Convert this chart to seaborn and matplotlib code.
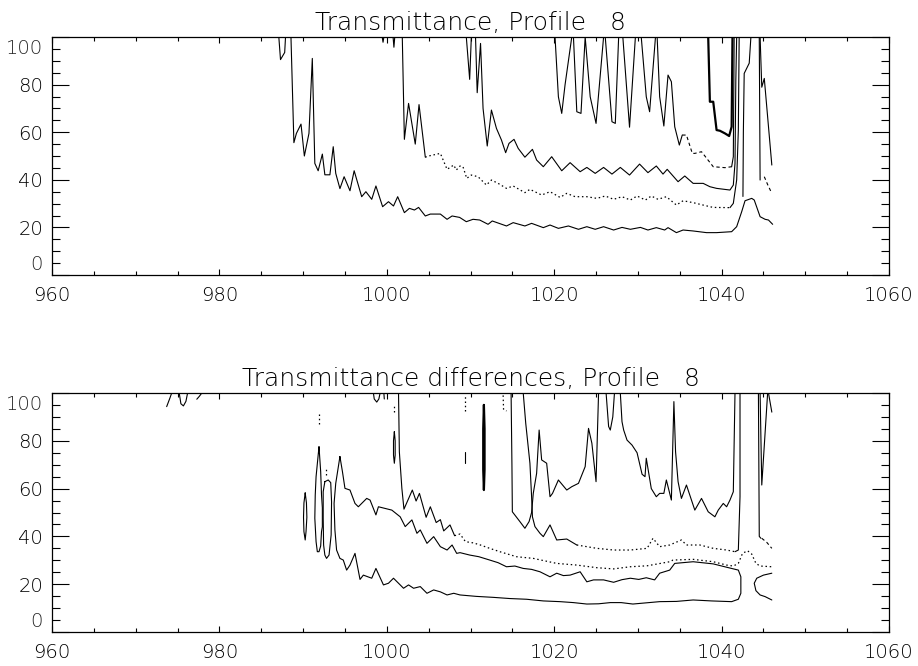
import numpy as np
import pandas as pd
import matplotlib
matplotlib.use("Agg")
import matplotlib.pyplot as plt
from matplotlib.ticker import MultipleLocator
from matplotlib.transforms import offset_copy
import seaborn as sns

# ---------------------------------------------------------------------------
# Axis layout values
x_range = (960, 1060)
y_range = (0, 100)
y_tick_values = [0, 20, 40, 60, 80, 100]
y_tick_labels = ["0", "20", "40", "60", "80", "100"]
x_tick_values = [960, 980, 1000, 1020, 1040, 1060]
x_tick_labels = ["960", "980", "1000", "1020", "1040", "1060"]
title_top = "Transmittance, Profile   8"
title_bottom = "Transmittance differences, Profile   8"

# ---------------------------------------------------------------------------
# Contour lines of the transmittance field (wavenumber, level)
top_spike_987 = np.array([[987.1, 100], [987.3, 90.5], [987.8, 93.5], [987.9, 100]])
top_spike_999 = np.array([[999.45, 100], [999.55, 97.8], [999.65, 100]])
top_spike_1001 = np.array([[1000.75, 100], [1000.85, 95.7], [1000.95, 100]])

top_low = np.array([
    [988.55, 100], [988.9, 55.6], [989.2, 59.5], [989.75, 63.4], [990.15, 50], [990.7, 59.5],
    [991.1, 91], [991.4, 46.9], [991.8, 43.8], [992.3, 50.8], [992.6, 42.1], [993.2, 42.1],
    [993.6, 53.9], [993.9, 42.7], [994.4, 36.3], [994.9, 41.3], [995.6, 35.4], [996.1, 43.8],
    [997.0, 32.9], [997.5, 35.0], [998.2, 31.8], [998.7, 37.4], [999.5, 28.7], [1000.2, 30.8],
    [1000.8, 29.0], [1001.3, 32.9], [1002.1, 26.2], [1002.7, 28.0], [1003.3, 27.3], [1003.8, 28.4],
    [1004.6, 24.8], [1005.2, 25.6], [1006.4, 25.6], [1007.2, 23.4], [1007.8, 24.8], [1008.7, 24.2],
    [1009.5, 22.4], [1010.3, 23.4], [1011.1, 23.1], [1012.1, 21.3], [1012.6, 22.7], [1014.3, 20.6],
    [1015.1, 22.0], [1016.5, 20.6], [1017.3, 21.7], [1018.7, 19.9], [1019.5, 21.0], [1020.5, 19.6],
    [1021.7, 20.6], [1022.9, 19.2], [1023.9, 20.3], [1024.9, 19.2], [1025.9, 20.3], [1027.1, 18.9],
    [1028.1, 20.0], [1029.1, 19.2], [1030.3, 20.0], [1031.2, 18.9], [1032.2, 19.9], [1033.2, 18.9],
    [1033.6, 19.9], [1034.6, 17.8], [1035.4, 18.9], [1036.6, 18.5], [1038.2, 17.8], [1039.4, 17.8],
    [1041.2, 18.2], [1041.8, 20.3], [1042.4, 26.6], [1042.8, 31.2], [1043.6, 32.2], [1043.9, 31.5],
    [1044.6, 24.5], [1045.2, 23.4], [1045.6, 23.1], [1046.1, 21.3]])

top_mid_head = np.array([
    [1001.85, 100], [1002.1, 57.0], [1002.6, 72.1], [1003.4, 55.0], [1003.85, 71.6], [1004.6, 49.5]])
top_mid_dotted = np.array([
    [1004.6, 49.5], [1005.0, 50.0], [1006.4, 51.1], [1007.2, 44.4], [1008.0, 46.2], [1008.3, 44.1],
    [1008.75, 45.8], [1009.1, 45.5], [1009.55, 40.6], [1010.1, 42.0], [1010.9, 41.3], [1011.9, 37.8],
    [1012.5, 39.9], [1013.3, 38.5], [1014.3, 36.4], [1015.1, 37.4], [1016.5, 34.6], [1017.1, 36.0],
    [1018.5, 33.6], [1019.5, 35.0], [1020.7, 32.6], [1021.5, 34.3], [1022.5, 32.9], [1023.9, 32.9],
    [1025.1, 32.2], [1026.1, 33.2], [1027.1, 31.8], [1028.1, 32.9], [1029.1, 31.5], [1029.9, 33.2],
    [1030.9, 31.5], [1031.6, 33.2], [1032.4, 31.8], [1033.4, 32.9], [1034.6, 29.4], [1035.4, 31.2],
    [1036.6, 30.4], [1038.6, 28.7], [1039.0, 28.4], [1041.0, 28.3]])
top_mid_rise = np.array([[1041.0, 28.3], [1041.4, 30.1], [1041.8, 39.9], [1042.0, 60.9], [1042.1, 100]])

top_upper = np.array([
    [1009.5, 100], [1009.9, 82.2], [1010.1, 100], [1010.6, 100], [1010.8, 76.6], [1011.2, 97.3],
    [1011.5, 70.0], [1012.0, 54.2], [1012.5, 69.3], [1013.1, 61.6], [1013.7, 56.7], [1014.2, 51.4],
    [1014.6, 55.3], [1015.2, 57.0], [1015.7, 53.2], [1016.5, 49.5], [1017.4, 52.8], [1017.9, 48.3],
    [1018.7, 45.5], [1019.7, 49.7], [1020.9, 43.8], [1021.9, 47.2], [1023.1, 43.4], [1023.9, 45.2],
    [1024.9, 42.7], [1025.9, 45.2], [1026.9, 42.4], [1027.9, 45.2], [1029.0, 42.0], [1030.2, 46.6],
    [1031.2, 43.0], [1032.2, 45.8], [1033.0, 42.4], [1033.5, 44.4], [1034.8, 39.2], [1035.6, 41.6],
    [1036.6, 38.5], [1037.8, 38.5], [1038.6, 37.1], [1039.4, 36.4], [1041.0, 35.7], [1041.4, 37.8],
    [1041.6, 46.9], [1041.7, 81.9], [1041.8, 100]])

top_spikes = np.array([
    [1020.1, 100], [1020.5, 74.9], [1020.9, 67.9], [1021.3, 80.0], [1022.1, 100], [1022.3, 100],
    [1022.7, 68.6], [1023.2, 67.9], [1023.7, 100], [1024.3, 74.9], [1025.0, 63.7], [1025.9, 100],
    [1026.1, 100], [1026.9, 64.4], [1027.3, 63.7], [1027.7, 100], [1028.2, 100], [1029.0, 62.1],
    [1029.7, 100], [1030.4, 100], [1031.0, 74.9], [1031.4, 68.6], [1032.1, 100], [1032.3, 100],
    [1032.6, 74.9], [1033.1, 62.6], [1033.6, 84.0], [1034.0, 81.2], [1034.4, 62.3], [1034.95, 54.6],
    [1035.3, 58.8]])
top_spikes_dashed = np.array([
    [1035.3, 58.8], [1035.8, 58.8], [1036.5, 51.1], [1036.8, 51.1], [1037.6, 51.8], [1039.0, 45.5],
    [1040.4, 45.1], [1041.2, 45.5]])
top_spikes_rise = np.array([[1041.2, 45.5], [1041.4, 49.7], [1041.5, 100]])

top_core = np.array([
    [1038.4, 100], [1038.6, 72.8], [1039.0, 72.8], [1039.4, 60.9], [1039.8, 60.6], [1040.4, 59.5],
    [1040.9, 58.4], [1041.2, 62.3], [1041.3, 100]])

top_right_a = np.array([[1042.55, 33.0], [1042.6, 60.0], [1042.7, 84.7], [1043.3, 89.0], [1043.5, 100]])
top_right_b = np.array([[1044.5, 100], [1044.6, 39.9]])
top_right_b_dashed = np.array([[1045.1, 41.3], [1045.5, 38.0], [1046.0, 34.3]])
top_right_c = np.array([[1044.6, 100], [1044.8, 78.9], [1045.1, 82.6], [1046.0, 46.2]])

# Contour lines of the transmittance differences
bot_edge_a = np.array([[973.7, 94.3], [974.1, 98.0], [974.3, 100]])
bot_edge_b = np.array([[975.2, 100], [975.4, 95.5], [975.7, 94.6], [976.0, 96.5], [976.2, 100]])
bot_edge_c = np.array([[977.3, 97.4], [977.6, 98.6], [977.9, 100]])
bot_oval_990 = np.array([
    [990.25, 58.2], [990.4, 54.0], [990.45, 48.0], [990.35, 42.0], [990.25, 38.5], [990.1, 42.0],
    [990.05, 48.0], [990.1, 54.0], [990.25, 58.2]])
bot_loop_left = np.array([
    [991.9, 77.5], [992.1, 67.1], [992.2, 57.3], [992.3, 52.0], [992.3, 44.0], [992.2, 42.0],
    [992.1, 36.0], [991.9, 33.6], [991.7, 33.6], [991.55, 37.8], [991.4, 47.6], [991.45, 57.3],
    [991.55, 65.0], [991.8, 74.0], [991.9, 77.5]])
bot_loop_right = np.array([
    [992.6, 62.9], [993.0, 63.6], [993.3, 62.5], [993.4, 54.5], [993.35, 40.6], [993.1, 32.2],
    [992.8, 30.8], [992.6, 32.2], [992.45, 36.4], [992.4, 47.6], [992.4, 58.7], [992.6, 62.9]])
bot_oval_1001 = np.array([
    [1000.9, 83.8], [1001.0, 80.0], [1001.0, 74.0], [1000.9, 70.6], [1000.8, 74.0], [1000.8, 80.0],
    [1000.9, 83.8]])
bot_cup_998 = np.array([[998.4, 100], [998.5, 97.5], [998.8, 96.2], [999.05, 97.5], [999.2, 100]])
bot_tick_999 = np.array([[999.65, 100], [999.7, 97.5]])
bot_dash_1009 = np.array([[1009.35, 75.4], [1009.35, 70.6]])
bot_lens_1011 = np.array([
    [1011.6, 95.0], [1011.68, 85.0], [1011.68, 68.0], [1011.6, 59.4], [1011.52, 68.0],
    [1011.52, 85.0], [1011.6, 95.0]])

bot_dots_a = np.array([[991.9, 87.0], [991.9, 91.5]])
bot_dots_b = np.array([[992.7, 65.5], [992.7, 69.0]])
bot_dots_c = np.array([[1000.9, 92.0], [1000.9, 95.5]])
bot_dots_d = np.array([[1009.35, 92.5], [1009.35, 99.5]])
bot_dots_e = np.array([[1013.9, 99.0], [1013.95, 93.0], [1014.3, 92.5]])

bot_closed = np.array([
    [994.4, 73.4], [994.7, 67.1], [995.0, 60.1], [995.6, 59.4], [996.2, 53.8], [996.6, 52.4],
    [997.6, 55.9], [998.0, 55.2], [998.7, 49.0], [999.0, 52.4], [1000.6, 51.0], [1001.6, 48.2],
    [1002.2, 44.1], [1003.0, 46.9], [1003.6, 41.3], [1004.0, 42.7], [1004.8, 37.1], [1005.6, 39.9],
    [1006.4, 35.7], [1007.2, 34.3], [1007.8, 36.4], [1008.35, 32.9], [1008.75, 33.2], [1009.9, 32.2],
    [1011.0, 31.5], [1012.3, 30.1], [1013.3, 29.0], [1014.3, 27.3], [1015.3, 27.6], [1016.3, 26.6],
    [1017.3, 26.2], [1018.3, 25.2], [1019.5, 23.1], [1020.3, 24.6], [1021.1, 23.6], [1021.9, 23.8],
    [1023.1, 25.2], [1023.9, 21.0], [1024.7, 21.8], [1025.9, 21.8], [1027.1, 20.8], [1028.1, 21.9],
    [1029.1, 22.5], [1030.1, 22.0], [1031.0, 22.7], [1032.0, 21.8], [1032.6, 24.6], [1033.8, 25.9],
    [1034.4, 28.7], [1036.6, 29.4], [1039.0, 28.5], [1040.6, 27.1], [1042.0, 25.9], [1042.3, 23.1],
    [1042.3, 16.2], [1042.0, 13.7], [1041.2, 12.7], [1038.8, 13.0], [1036.6, 13.4], [1034.6, 12.8],
    [1032.6, 12.7], [1031.0, 12.2], [1029.4, 11.7], [1028.0, 12.3], [1026.7, 12.3], [1025.3, 11.8],
    [1023.9, 11.7], [1022.3, 12.3], [1020.7, 12.7], [1018.7, 13.0], [1016.7, 13.7], [1014.7, 14.0],
    [1012.7, 14.5], [1010.7, 14.9], [1008.75, 15.5], [1008.0, 16.2], [1007.2, 15.5], [1006.4, 16.8],
    [1005.6, 17.6], [1004.8, 16.2], [1004.0, 19.0], [1003.2, 18.3], [1002.6, 19.7], [1002.0, 18.3],
    [1001.4, 20.4], [1000.8, 22.5], [1000.2, 20.4], [999.6, 19.7], [998.7, 26.6], [998.2, 22.5],
    [997.2, 23.8], [996.8, 22.0], [996.2, 32.9], [995.6, 28.0], [995.2, 25.9], [994.8, 30.1],
    [994.4, 30.8], [994.0, 34.3], [993.8, 42.7], [993.7, 53.8], [993.9, 62.2], [994.4, 73.4]])

bot_mid_head = np.array([
    [1001.4, 100], [1001.5, 75.4], [1001.8, 60.1], [1002.05, 51.4], [1003.05, 59.4], [1003.5, 54.8],
    [1003.9, 58.0], [1004.7, 48.0], [1005.2, 52.4], [1005.9, 45.8], [1006.4, 47.0], [1006.8, 42.3],
    [1007.55, 44.8], [1008.1, 40.3]])
bot_mid_dashed = np.array([
    [1008.1, 40.3], [1008.75, 41.0], [1009.4, 37.8], [1010.3, 37.3], [1011.1, 36.5], [1011.9, 35.5],
    [1012.3, 35.0], [1013.5, 33.6], [1015.5, 31.5], [1017.5, 30.8], [1020.3, 28.7], [1022.7, 28.0],
    [1025.1, 26.9], [1027.1, 26.4], [1029.1, 27.3], [1031.1, 27.7], [1033.8, 29.4], [1034.2, 30.1],
    [1036.6, 30.4], [1039.0, 29.4], [1040.6, 28.0], [1041.4, 27.6], [1042.0, 28.7], [1042.5, 32.9],
    [1043.1, 34.0], [1043.6, 32.6], [1044.1, 28.7], [1044.6, 27.6], [1046.0, 27.3]])

bot_hook = np.array([
    [1046.0, 24.6], [1045.0, 23.8], [1044.2, 22.5], [1043.9, 20.4], [1044.1, 17.3], [1044.6, 15.5],
    [1045.2, 14.8], [1046.0, 13.4]])

bot_upper = np.array([
    [1014.85, 100], [1014.95, 70.0], [1015.0, 50.3], [1015.9, 46.2], [1016.5, 43.4], [1017.0, 46.2],
    [1017.3, 50.0], [1017.5, 58.0], [1017.9, 66.4], [1018.2, 84.5], [1018.5, 72.0], [1019.1, 70.6],
    [1019.5, 56.6], [1019.8, 58.0], [1020.5, 63.6], [1021.5, 59.4], [1022.1, 60.8], [1022.9, 62.2],
    [1023.7, 69.2], [1024.1, 85.2], [1024.5, 79.0], [1025.0, 62.9], [1025.3, 100], [1026.2, 100],
    [1026.5, 86.0], [1026.7, 84.5], [1027.0, 90.0], [1027.2, 100], [1027.9, 100], [1028.1, 88.0],
    [1028.3, 84.5], [1028.7, 80.3], [1029.3, 78.2], [1029.9, 75.0], [1030.5, 66.0], [1030.85, 65.0],
    [1031.0, 72.7], [1031.6, 60.0], [1032.2, 56.6], [1032.6, 58.0], [1033.1, 58.0], [1033.4, 63.6],
    [1034.0, 55.2], [1034.3, 96.4], [1034.5, 75.4], [1034.8, 62.9], [1035.2, 55.9], [1035.8, 61.5],
    [1036.2, 57.3], [1036.8, 51.0], [1037.6, 55.9], [1038.4, 50.3], [1039.2, 48.2], [1039.6, 51.0],
    [1040.2, 53.8], [1040.6, 52.4], [1041.0, 55.2], [1041.4, 58.7], [1041.6, 100]])

bot_cross_head = np.array([
    [1016.3, 100], [1016.6, 87.3], [1017.1, 70.6], [1017.3, 56.6], [1017.4, 48.2], [1017.7, 44.1],
    [1018.3, 41.3], [1018.7, 39.9], [1019.5, 44.8], [1020.3, 38.5], [1021.5, 38.9], [1022.7, 36.4]])
bot_cross_dotted = np.array([
    [1022.7, 36.4], [1025.1, 35.0], [1027.1, 34.3], [1029.1, 34.3], [1031.1, 35.0], [1031.8, 39.2],
    [1032.6, 35.7], [1033.8, 36.4], [1035.2, 38.5], [1035.8, 36.4], [1037.4, 36.4], [1039.0, 35.0],
    [1040.6, 34.3], [1041.6, 33.6]])
bot_cross_rise = np.array([[1041.6, 33.6], [1042.0, 34.3], [1042.2, 56.6], [1042.2, 100]])

bot_right_v = np.array([[1044.6, 100], [1044.8, 61.5], [1045.5, 100]])
bot_right_end = np.array([[1045.6, 100], [1046.0, 92.0]])
bot_right_long = np.array([[1044.4, 100], [1044.5, 40.0], [1044.7, 39.2]])
bot_right_long_dashed = np.array([[1044.8, 39.2], [1045.4, 37.5], [1046.0, 35.0]])


def segments_frame(segments):
    """Long-form table with one unit id per contour piece."""
    frames = []
    for i, seg in enumerate(segments):
        frames.append(pd.DataFrame({"x": seg[:, 0], "y": seg[:, 1], "seg": i}))
    return pd.concat(frames, ignore_index=True)


STYLES = {
    "solid": dict(linestyle="-", lw=0.8),
    "thick": dict(linestyle="-", lw=1.6),
    "dotted": dict(linestyle=(0, (1.2, 2.2)), lw=0.9),
    "dashed": dict(linestyle=(0, (3.0, 2.5)), lw=0.8),
}

top_pieces = {
    "solid": [top_spike_987, top_spike_999, top_spike_1001, top_low, top_mid_head, top_mid_rise,
              top_upper, top_spikes, top_spikes_rise, top_right_a, top_right_b, top_right_c],
    "thick": [top_core],
    "dotted": [top_mid_dotted],
    "dashed": [top_spikes_dashed, top_right_b_dashed],
}
bottom_pieces = {
    "solid": [bot_edge_a, bot_edge_b, bot_edge_c, bot_oval_990, bot_loop_left, bot_loop_right,
              bot_oval_1001, bot_cup_998, bot_tick_999, bot_dash_1009, bot_closed, bot_mid_head,
              bot_hook, bot_upper, bot_cross_head, bot_cross_rise, bot_right_v, bot_right_end,
              bot_right_long],
    "thick": [bot_lens_1011],
    "dotted": [bot_dots_a, bot_dots_b, bot_dots_c, bot_dots_d, bot_dots_e, bot_cross_dotted,
               bot_mid_dashed],
    "dashed": [bot_right_long_dashed],
}

sns.set_style("ticks")
plt.rcParams["font.family"] = ["DejaVu Sans"]
plt.rcParams["font.weight"] = "light"
plt.rcParams["axes.linewidth"] = 0.9

fig = plt.figure(figsize=(9.18, 6.66), dpi=100)
ax_top = fig.add_axes([52 / 918, (666 - 275) / 666, 837 / 918, 238 / 666])
ax_bot = fig.add_axes([52 / 918, (666 - 632) / 666, 837 / 918, 239 / 666])


def draw_panel(ax, pieces, title):
    for style, segs in pieces.items():
        df = segments_frame(segs)
        sns.lineplot(data=df, x="x", y="y", units="seg", estimator=None, sort=False,
                     color="black", ax=ax, legend=False, **STYLES[style])
    ax.set_xlim(*x_range)
    ax.set_ylim(*y_range)
    ax.set_xlabel("")
    ax.set_ylabel("")
    for sp in ax.spines.values():
        sp.set_visible(True)
        sp.set_color("black")
        sp.set_linewidth(0.9)
    ax.set_xticks(x_tick_values)
    ax.set_xticklabels(x_tick_labels)
    ax.xaxis.set_minor_locator(MultipleLocator(5))
    ax.set_yticks(y_tick_values)
    inner = [lab if v not in (y_range[0], y_range[1]) else "" for v, lab in zip(y_tick_values, y_tick_labels)]
    ax.set_yticklabels(inner)
    ax.yaxis.set_minor_locator(MultipleLocator(5))
    ax.tick_params(which="both", direction="in", top=True, right=True, colors="black",
                   labelsize=14, width=0.8)
    ax.tick_params(axis="y", which="major", length=12.2, pad=6.5)
    ax.tick_params(axis="y", which="minor", length=5.8)
    ax.tick_params(axis="x", which="major", length=4, pad=8)
    ax.tick_params(axis="x", which="minor", length=3)
    # end labels of the level axis sit inside the frame height
    ytr = ax.get_yaxis_transform()
    ax.text(0, y_range[1], y_tick_labels[-1], fontsize=14, ha="right", va="top",
            transform=offset_copy(ytr, fig=fig, x=-9, y=-2, units="dots"))
    ax.text(0, y_range[0], y_tick_labels[0], fontsize=14, ha="right", va="bottom",
            transform=offset_copy(ytr, fig=fig, x=-9, y=1, units="dots"))
    ax.set_title(title, fontsize=18, pad=5, color="black", fontweight="light")


draw_panel(ax_top, top_pieces, title_top)
draw_panel(ax_bot, bottom_pieces, title_bottom)

fig.savefig("out.png", dpi=100, facecolor="white")
